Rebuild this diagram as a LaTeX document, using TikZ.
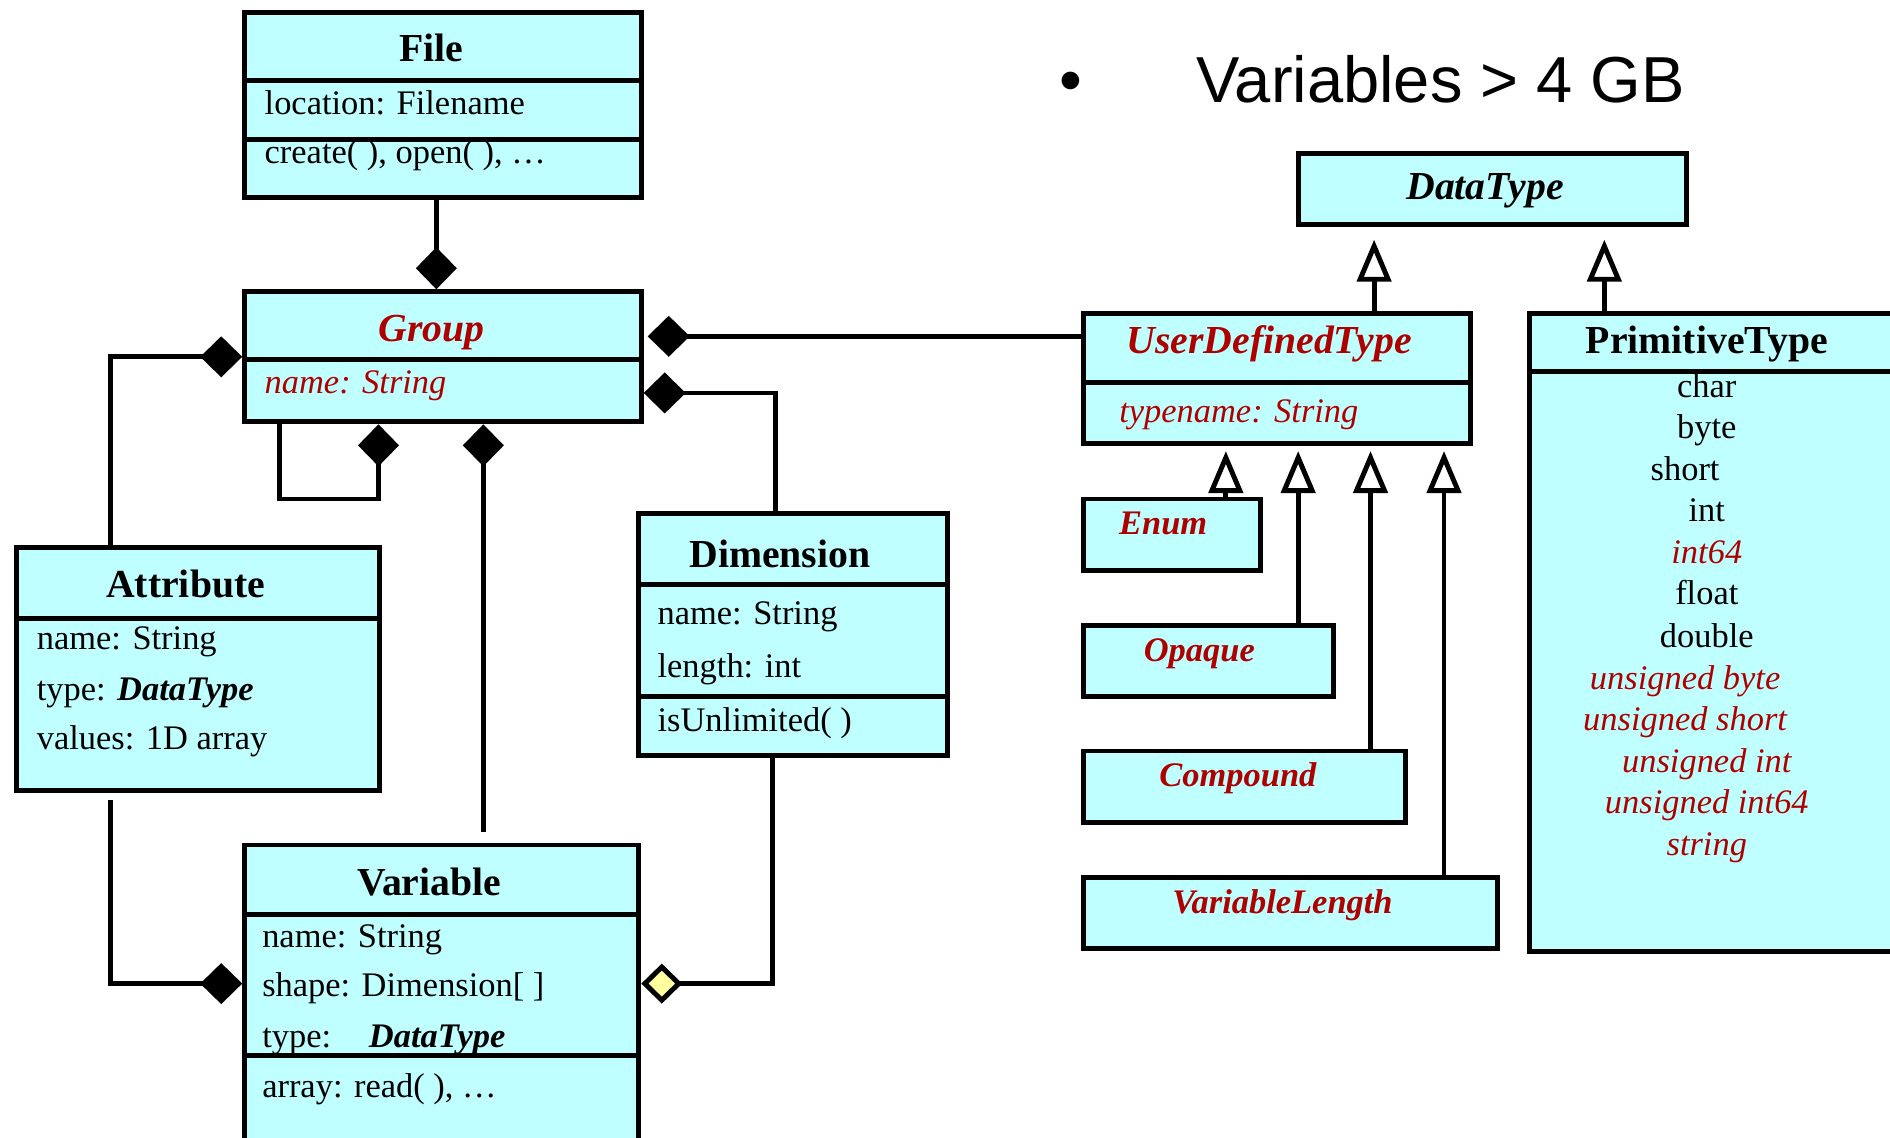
\documentclass[tikz,border=0pt]{standalone}
\usepackage{fontspec}
\setmainfont{Liberation Serif}
\newfontfamily\slidefont{Liberation Sans}
\usetikzlibrary{arrows.meta, fit}
\definecolor{boxcyan}{RGB}{191,255,255}
\definecolor{myred}{RGB}{175,0,0}
\definecolor{diayellow}{RGB}{255,255,160}

\begin{document}
\begin{tikzpicture}[x=0.012054cm, y=-0.012054cm,
  classbox/.style={draw, line width=1.4pt, fill=boxcyan, inner sep=0pt},
  divline/.style={line width=1.4pt},
  ttl/.style={inner sep=0pt, yshift=-0.035cm, text height=1.6ex, text depth=0.45ex, font=\fontsize{11.3}{13}\selectfont\bfseries},
  rttl/.style={ttl, text=myred, font=\fontsize{11.3}{13}\selectfont\bfseries\itshape},
  sttl/.style={ttl, text=myred, font=\fontsize{9.8}{12}\selectfont\bfseries\itshape},
  txt/.style={anchor=west, inner sep=0pt, yshift=-0.025cm, text height=1.6ex, text depth=0.45ex, font=\fontsize{9.8}{12}\selectfont},
  rtxt/.style={txt, text=myred, font=\fontsize{9.8}{12}\selectfont\itshape},
  ptxt/.style={txt, anchor=center},
  prtxt/.style={rtxt, anchor=center},
  comp/.style={line width=1.4pt, -{Diamond[length=0.42cm, width=0.41cm]}},
  aggr/.style={line width=1.4pt, -{Diamond[length=0.41cm, width=0.40cm, fill=diayellow]}},
  gen/.style={line width=1.4pt, -{Triangle[open, length=0.42cm, width=0.34cm]}}]
  \useasboundingbox (0,0) rectangle (1568,944);
  \clip (0,0) rectangle (1568,944);
  % File
  \node[classbox, fit={(203,10) (532,164)}] (file) {};
  \draw[divline] (file.west |- 0,67) -- (file.east |- 0,67);
  \draw[divline] (file.west |- 0,116) -- (file.east |- 0,116);
  \node[ttl] (fileT) at (358,40) {File};
  \node[txt] (fileA) at (219,85) {location: Filename};
  \node[txt] (fileM) at (219,126) {create( ), open( ), …};
  % Group
  \node[classbox, fit={(203,242) (532,350)}] (group) {};
  \draw[divline] (group.west |- 0,298) -- (group.east |- 0,298);
  \node[rttl] (groupT) at (358,273) {Group};
  \node[rtxt] (groupA) at (219,317) {name: String};
  % Attribute
  \node[classbox, fit={(14,454) (315,656)}] (attr) {};
  \draw[divline] (attr.west |- 0,513) -- (attr.east |- 0,513);
  \node[ttl] (attrT) at (154,485) {Attribute};
  \node[txt] (attrA1) at (30,529) {name: String};
  \node[txt] (attrA2) at (30,571) {type: \textbf{\textit{DataType}}};
  \node[txt] (attrA3) at (30,612) {values: 1D array};
  % Dimension
  \node[classbox, fit={(530,426) (786,627)}] (dim) {};
  \draw[divline] (dim.west |- 0,485) -- (dim.east |- 0,485);
  \draw[divline] (dim.west |- 0,578) -- (dim.east |- 0,578);
  \node[ttl] (dimT) at (647,460) {Dimension};
  \node[txt] (dimA1) at (545,508) {name: String};
  \node[txt] (dimA2) at (545,552) {length: int};
  \node[txt] (dimM) at (545,597) {isUnlimited( )};
  % Variable
  \node[classbox, fit={(203,701) (530,990)}] (var) {};
  \draw[divline] (var.west |- 0,759) -- (var.east |- 0,759);
  \draw[divline] (var.west |- 0,876) -- (var.east |- 0,876);
  \node[ttl] (varT) at (356,732) {Variable};
  \node[txt] (varA1) at (217,776) {name: String};
  \node[txt] (varA2) at (217,817) {shape: Dimension[ ]};
  \node[txt] (varA3) at (217,859) {type:\hspace{7.5pt} \textbf{\textit{DataType}}};
  \node[txt] (varM) at (217,901) {array: read( ), …};
  % DataType
  \node[classbox, fit={(1077,127) (1399,186)}] (dtype) {};
  \node[ttl, font=\fontsize{11.3}{13}\selectfont\bfseries\itshape] (dtypeT) at (1232,155) {DataType};
  % UserDefinedType
  \node[classbox, fit={(899,260) (1220,368)}] (udt) {};
  \draw[divline] (udt.west |- 0,317) -- (udt.east |- 0,317);
  \node[rttl] (udtT) at (1053,283) {UserDefinedType};
  \node[rtxt] (udtA) at (928,341) {typename: String};
  % PrimitiveType
  \node[classbox, fit={(1269,260) (1610,789)}] (prim) {};
  \draw[divline] (prim.west |- 0,308) -- (prim.east |- 0,308);
  \node[ttl] (primT) at (1416,283) {PrimitiveType};
  \foreach \tname/\ty/\tx/\tsty in {char/320/1416/ptxt, byte/354/1416/ptxt,
      short/389/1398/ptxt, int/423/1416/ptxt, int64/458/1416/prtxt,
      float/492/1416/ptxt, double/527/1416/ptxt, unsigned byte/562/1398/prtxt,
      unsigned short/596/1398/prtxt, unsigned int/631/1416/prtxt,
      unsigned int64/665/1416/prtxt, string/700/1416/prtxt}
    \node[\tsty] (prim-\ty) at (\tx,\ty) {\tname};
  % user defined subtypes
  \foreach \nm/\xr/\yt/\tx/\lbl in {enum/1046/414/965/Enum, opaque/1106/519/995/Opaque,
      compound/1166/623/1027/Compound, varlen/1242/728/1064/VariableLength}
  {
    \node[classbox, fit={(899,\yt) (\xr,\yt+59)}] (\nm) {};
    \node[sttl] (\nm-t) at (\tx,\yt+19) {\lbl};
  }
  % slide text
  \node[font=\slidefont\fontsize{18.5}{22}\selectfont, inner sep=0pt, anchor=base west] (bullet) at (878,85) {•};
  \node[font=\slidefont\fontsize{18.5}{22}\selectfont, inner sep=0pt, anchor=base west] (slideT) at (992,85) {Variables > 4 GB};
  % compositions
  \coordinate (fg) at (362,0);
  \coordinate (aL) at (92,0);
  \coordinate (loopA) at (232,414);
  \coordinate (loopB) at (314,414);
  \coordinate (gv) at (401,0);
  \coordinate (gu) at (0,279);
  \coordinate (gd) at (643,326);
  \coordinate (av) at (92,816);
  \coordinate (vd) at (641,816);
  \draw[comp] (file.south -| fg) -- (group.north -| fg);
  \draw[comp] (attr.north -| aL) |- (group.west);
  \draw[comp] (group.south -| loopA) |- (loopB) -- (group.south -| loopB);
  \draw[comp, shorten <=0.11cm] (var.north -| gv) -- (group.south -| gv);
  \draw[comp] (udt.west |- gu) -- ([xshift=0.04cm]group.east |- gu);
  \draw[comp] (dim.north -| gd) |- (group.east |- gd);
  \draw[comp, shorten <=0.07cm] (attr.south -| av) |- (var.west |- av);
  % aggregation
  \draw[aggr] (dim.south -| vd) |- (var.east |- vd);
  % generalizations
  \draw[gen, shorten >=0.13cm] (udt.north -| 1140,0) -- (dtype.south -| 1140,0);
  \draw[gen, shorten >=0.13cm] (prim.north -| 1331,0) -- (dtype.south -| 1331,0);
  \foreach \sub/\gx in {enum/1017, opaque/1077, compound/1137, varlen/1198}
    \draw[gen, shorten >=0.05cm] (\sub.north -| \gx,0) -- (udt.south -| \gx,0);
\end{tikzpicture}
\end{document}
